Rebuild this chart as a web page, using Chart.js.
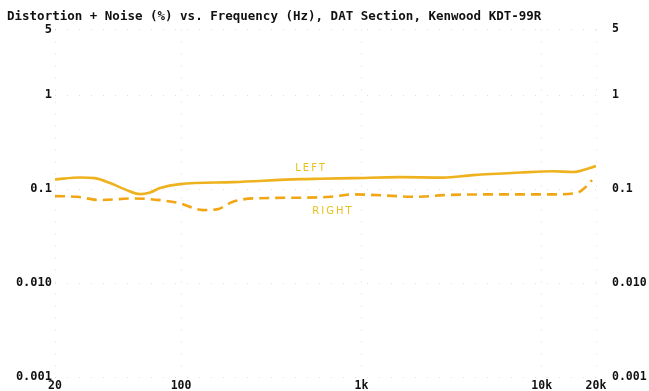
<!DOCTYPE html>
<html>
<head>
<meta charset="utf-8">
<script src="https://cdn.jsdelivr.net/npm/chart.js@4/dist/chart.umd.min.js"></script>
<style>
  html, body { margin: 0; padding: 0; background: #ffffff; }
  #wrap { width: 649px; height: 391px; }
</style>
</head>
<body>
<div id="wrap"><canvas id="c" width="649" height="391"></canvas></div>
<script>
// Frequency (Hz) and THD+N (%) for each channel
const leftFreq  = [20, 27.5, 33.3, 40.4, 48.9, 59.2, 67.3, 76.5, 98.7, 194, 457, 590, 900, 1640, 2840, 4160, 7590, 11570, 14900, 20000];
const leftThd   = [0.127, 0.133, 0.131, 0.116, 0.0993, 0.0885, 0.0922, 0.1025, 0.113, 0.1187, 0.1277, 0.1290, 0.131, 0.134, 0.1326, 0.141, 0.150, 0.155, 0.152, 0.176];
const rightFreq = [20, 26.5, 35.6, 54, 76.5, 98.7, 132, 158, 194, 251, 457, 670, 900, 2110, 2840, 4980, 11570, 15700, 17500, 19000];
const rightThd  = [0.0843, 0.0828, 0.0764, 0.0796, 0.0764, 0.0705, 0.0598, 0.0608, 0.0732, 0.0796, 0.081, 0.0828, 0.0878, 0.0828, 0.0863, 0.0878, 0.0878, 0.0913, 0.105, 0.125];

// Axis ticks
const xTickValues = [20, 100, 1000, 10000, 20000];
const xTickLabels = ['20', '100', '1k', '10k', '20k'];
const yTickValues = [0.001, 0.01, 0.1, 1, 5];
const yTickLabels = ['0.001', '0.010', '0.1', '1', '5'];

// Channel labels placed next to the traces
const curveLabels = [
  { text: 'LEFT',  x: 526, y: 0.167 },
  { text: 'RIGHT', x: 696, y: 0.0583 }
];

const TITLE = 'Distortion + Noise (%) vs. Frequency (Hz), DAT Section, Kenwood KDT-99R';
const MONO = '"DejaVu Sans Mono", "Liberation Mono", monospace';

const toPoints = (xs, ys) => xs.map((x, i) => ({ x: x, y: ys[i] }));

const labelPlugin = {
  id: 'curveLabels',
  afterDatasetsDraw(chart) {
    const ctx = chart.ctx;
    const xs = chart.scales.x, ys = chart.scales.y;
    ctx.save();
    ctx.fillStyle = '#e9bf1c';
    ctx.font = '10px "DejaVu Sans", sans-serif';
    ctx.letterSpacing = '2px';
    ctx.textAlign = 'center';
    ctx.textBaseline = 'middle';
    curveLabels.forEach(l => {
      ctx.fillText(l.text, xs.getPixelForValue(l.x), ys.getPixelForValue(l.y));
    });
    ctx.restore();
  }
};

const tickSetter = (values) => function (axis) {
  axis.ticks = values.map(v => ({ value: v }));
};
const tickLabel = (values, labels) => function (value) {
  const i = values.findIndex(v => Math.abs(v - value) / v < 1e-6);
  return i >= 0 ? labels[i] : '';
};
// fixed-size axes, no extra room reserved for end labels
const fixWidth = (w) => function (scale) {
  scale.width = w;
  scale.paddingTop = 0;
  scale.paddingBottom = 0;
};

const gridStyle = {
  color: 'rgba(0,0,0,0.13)',
  lineWidth: 1,
  drawTicks: false
};
const dottedBorder = { display: false, dash: [1, 11] };

new Chart(document.getElementById('c'), {
  type: 'line',
  data: {
    datasets: [
      {
        label: 'LEFT',
        data: toPoints(leftFreq, leftThd),
        borderColor: '#efb21f',
        borderWidth: 2.6,
        pointRadius: 0,
        tension: 0.4,
        cubicInterpolationMode: 'monotone',
        yAxisID: 'y'
      },
      {
        label: 'RIGHT',
        data: toPoints(rightFreq, rightThd),
        borderColor: '#f2a614',
        borderWidth: 2.6,
        borderDash: [10, 6],
        pointRadius: 0,
        tension: 0.4,
        cubicInterpolationMode: 'monotone',
        yAxisID: 'y'
      }
    ]
  },
  options: {
    responsive: false,
    animation: false,
    devicePixelRatio: 1,
    layout: { padding: { left: 7, right: 0, top: 0, bottom: 0 } },
    plugins: {
      legend: { display: false },
      tooltip: { enabled: false },
      title: {
        display: true,
        text: TITLE,
        align: 'start',
        color: '#111111',
        font: { family: MONO, size: 12.5, weight: 'bold', lineHeight: 1 },
        padding: { top: 10, bottom: 7 }
      }
    },
    scales: {
      x: {
        type: 'logarithmic',
        min: 20,
        max: 20000,
        afterBuildTicks: tickSetter(xTickValues),
        afterFit(scale) { scale.height = 14; scale.paddingLeft = 0; scale.paddingRight = 0; },
        border: dottedBorder,
        grid: gridStyle,
        ticks: {
          autoSkip: false,
          maxRotation: 0,
          padding: 2,
          color: '#111111',
          font: { family: MONO, size: 11.5, weight: 'bold' },
          callback: tickLabel(xTickValues, xTickLabels)
        }
      },
      y: {
        type: 'logarithmic',
        position: 'left',
        min: 0.001,
        max: 5,
        afterBuildTicks: tickSetter(yTickValues),
        afterFit: fixWidth(48),
        border: dottedBorder,
        grid: gridStyle,
        ticks: {
          autoSkip: false,
          padding: 3,
          color: '#111111',
          font: { family: MONO, size: 12, weight: 'bold' },
          callback: tickLabel(yTickValues, yTickLabels)
        }
      },
      y2: {
        type: 'logarithmic',
        position: 'right',
        min: 0.001,
        max: 5,
        afterBuildTicks: tickSetter(yTickValues),
        afterFit: fixWidth(53),
        border: { display: false },
        grid: { display: false },
        ticks: {
          autoSkip: false,
          padding: 8,
          color: '#111111',
          font: { family: MONO, size: 11.5, weight: 'bold' },
          callback: tickLabel(yTickValues, yTickLabels)
        }
      }
    }
  },
  plugins: [labelPlugin]
});
</script>
</body>
</html>
